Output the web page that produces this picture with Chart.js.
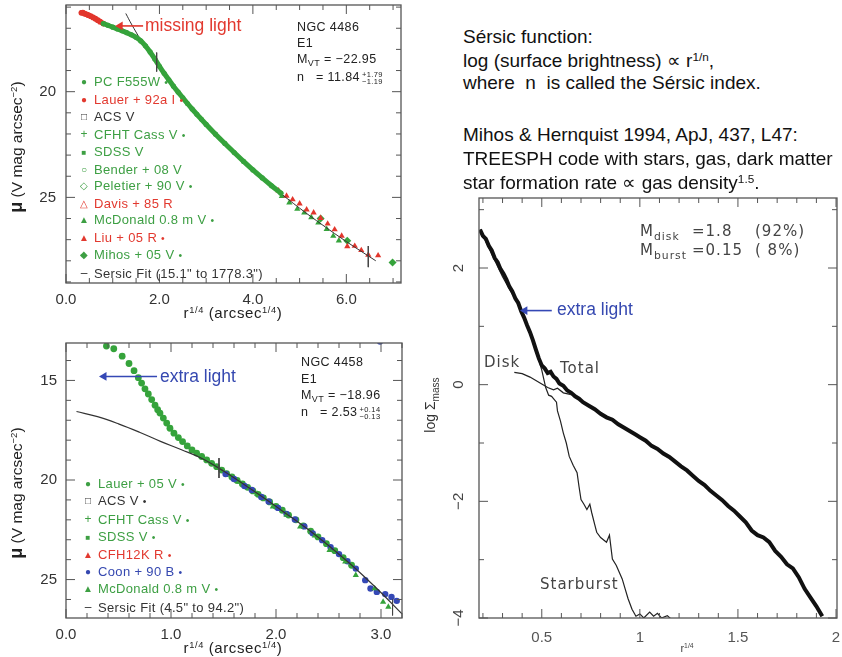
<!DOCTYPE html>
<html>
<head>
<meta charset="utf-8">
<title>Sersic profiles: missing and extra light</title>
<script src="https://cdn.jsdelivr.net/npm/chart.js@4.4.1/dist/chart.umd.min.js"></script>
<style>
  html, body { margin: 0; padding: 0; background: #fff; }
  body { position: relative; width: 842px; height: 657px; overflow: hidden;
         font-family: "Liberation Sans", Arial, sans-serif; color: #222; }
  .panel { position: absolute; }
  .panel canvas { display: block; }
  .intro { position: absolute; left: 463px; font-size: 19px; line-height: 1; color: #111; white-space: pre; }
  .sup { font-size: 0.62em; position: relative; top: -0.55em; }
  .sub { font-size: 0.72em; position: relative; top: 0.35em; }
  .legend { position: absolute; font-size: 13px; letter-spacing: 0.35px; white-space: nowrap; }
  .legend .mk { display: inline-block; width: 10px; margin-right: 5px; text-align: center; font-size: 10px; vertical-align: 1px; letter-spacing: 0; }
  .legend .ast { font-size: 0.8em; }
  .g { color: #3d9f43; }
  .r { color: #e2392f; }
  .k { color: #333; }
  .b { color: #3548b0; }
  .info { position: absolute; font-size: 12.5px; letter-spacing: 0.4px; line-height: 1; white-space: pre; color: #222; }
  .stack { display: inline-block; vertical-align: middle; font-size: 7.5px; line-height: 7px; margin-left: 2px; }
  .ytitle { position: absolute; transform: translate(-50%, -50%) rotate(-90deg); white-space: nowrap; line-height: 1; }
  .xtitle { position: absolute; transform: translate(-50%, -50%); white-space: nowrap; line-height: 1; }
  .note { position: absolute; white-space: nowrap; line-height: 1; font-size: 17.5px; }
  .sim { position: absolute; white-space: pre; line-height: 1; font-family: "DejaVu Sans", sans-serif; font-size: 15px; letter-spacing: 1px; color: #444; }
</style>
</head>
<body>

<div class="panel" style="left:0;top:0"><canvas id="tl" width="420" height="320"></canvas></div>
<div class="panel" style="left:0;top:330px"><canvas id="bl" width="420" height="327"></canvas></div>
<div class="panel" style="left:420px;top:190px"><canvas id="rt" width="422" height="467"></canvas></div>

<!-- right-hand explanatory text -->
<div class="intro" style="top:27px">Sérsic function:</div>
<div class="intro" style="top:51px">log (surface brightness) ∝ r<span class="sup">1/n</span>,</div>
<div class="intro" style="top:73px">where  n  is called the Sérsic index.</div>
<div class="intro" style="top:125px">Mihos &amp; Hernquist 1994, ApJ, 437, L47:</div>
<div class="intro" style="top:149px">TREESPH code with stars, gas, dark matter</div>
<div class="intro" style="top:173px">star formation rate ∝ gas density<span class="sup">1.5</span>.</div>

<!-- NGC 4486 panel text -->
<div class="note r" style="left:145px;top:17px">missing light</div>
<div class="info" style="left:297px;top:21px">NGC 4486</div>
<div class="info" style="left:297px;top:37px">E1</div>
<div class="info" style="left:297px;top:53px">M<span class="sub">VT</span> = −22.95</div>
<div class="info" style="left:297px;top:71px">n   = 11.84<span class="stack">+1.79<br>−1.19</span></div>
<div class="legend" style="left:79px;top:74px;line-height:16.5px">
  <div class="g"><span class="mk">●</span>PC F555W <span class="ast">•</span></div>
  <div class="r"><span class="mk">●</span>Lauer + 92a I <span class="ast">•</span></div>
  <div class="k"><span class="mk">□</span>ACS V</div>
  <div class="g"><span class="mk" style="font-size:12px">+</span>CFHT Cass V <span class="ast">•</span></div>
  <div class="g"><span class="mk" style="font-size:8px">■</span>SDSS V</div>
  <div class="g"><span class="mk">○</span>Bender + 08 V</div>
  <div class="g"><span class="mk">◇</span>Peletier + 90 V <span class="ast">•</span></div>
  <div class="r"><span class="mk">△</span>Davis + 85 R</div>
  <div class="g"><span class="mk">▲</span>McDonald 0.8 m V <span class="ast">•</span></div>
  <div class="r"><span class="mk">▲</span>Liu + 05 R <span class="ast">•</span></div>
  <div class="g"><span class="mk">◆</span>Mihos + 05 V <span class="ast">•</span></div>
  <div class="k"><span class="mk" style="font-size:12px">–</span>Sersic Fit (15.1" to 1778.3")</div>
</div>
<div class="ytitle" style="left:17px;top:147px;font-size:15.5px"><b style="font-size:1.15em">μ</b> (V mag arcsec<span class="sup">−2</span>)</div>
<div class="xtitle" style="left:233px;top:313px;font-size:15px;letter-spacing:0.6px">r<span class="sup">1/4</span> (arcsec<span class="sup">1/4</span>)</div>

<!-- NGC 4458 panel text -->
<div class="note b" style="left:160px;top:368px">extra light</div>
<div class="info" style="left:301px;top:356px">NGC 4458</div>
<div class="info" style="left:301px;top:373px">E1</div>
<div class="info" style="left:301px;top:389px">M<span class="sub">VT</span> = −18.96</div>
<div class="info" style="left:301px;top:406px">n   = 2.53<span class="stack">+0.14<br>−0.13</span></div>
<div class="legend" style="left:83px;top:476px;line-height:16.4px">
  <div class="g"><span class="mk">●</span>Lauer + 05 V <span class="ast">•</span></div>
  <div class="k"><span class="mk">□</span>ACS V <span class="ast">•</span></div>
  <div class="g"><span class="mk" style="font-size:12px">+</span>CFHT Cass V <span class="ast">•</span></div>
  <div class="g"><span class="mk" style="font-size:8px">■</span>SDSS V <span class="ast">•</span></div>
  <div class="r"><span class="mk">▲</span>CFH12K R <span class="ast">•</span></div>
  <div class="b"><span class="mk">●</span>Coon + 90 B <span class="ast">•</span></div>
  <div class="g"><span class="mk">▲</span>McDonald 0.8 m V <span class="ast">•</span></div>
  <div class="k"><span class="mk" style="font-size:12px">–</span>Sersic Fit (4.5" to 94.2")</div>
</div>
<div class="ytitle" style="left:17px;top:493px;font-size:15.5px"><b style="font-size:1.15em">μ</b> (V mag arcsec<span class="sup">−2</span>)</div>
<div class="xtitle" style="left:233px;top:648px;font-size:15px;letter-spacing:0.6px">r<span class="sup">1/4</span> (arcsec<span class="sup">1/4</span>)</div>

<!-- simulation panel text -->
<div class="sim" style="left:640px;top:224px">M<span class="sub">disk</span></div>
<div class="sim" style="left:692px;top:224px">=1.8</div>
<div class="sim" style="left:755px;top:224px">(92%)</div>
<div class="sim" style="left:640px;top:243px">M<span class="sub">burst</span></div>
<div class="sim" style="left:692px;top:243px">=0.15</div>
<div class="sim" style="left:755px;top:243px">( 8%)</div>
<div class="note b" style="left:557px;top:301px">extra light</div>
<div class="sim" style="left:484px;top:355px">Disk</div>
<div class="sim" style="left:560px;top:361px">Total</div>
<div class="sim" style="left:540px;top:577px">Starburst</div>
<div class="ytitle" style="left:430px;top:405px;font-size:14px;color:#333">log Σ<span class="sub">mass</span></div>
<div class="xtitle" style="left:687px;top:648px;font-size:11px;color:#444">r<span class="sup">1/4</span></div>

<script>
// ---- NGC 4486 (top left): [r^1/4, mu] ----
const tlLauer92 = [[0.33,16.27],[0.36,16.26],[0.40,16.31],[0.44,16.34],[0.48,16.38],[0.53,16.43],
  [0.58,16.49],[0.63,16.55],[0.68,16.62],[0.73,16.69],[0.80,16.78]];
const tlPcF555W = [[0.80,16.78],[0.90,16.86],[1.00,16.95],[1.10,17.03],[1.20,17.12],[1.30,17.21],
  [1.40,17.31],[1.50,17.43],[1.60,17.60],[1.70,17.83],[1.80,18.12],[1.90,18.45],[2.00,18.80],
  [2.10,19.13],[2.20,19.44],[2.30,19.74],[2.40,20.02],[2.50,20.29],[2.60,20.56],[2.70,20.82],
  [2.80,21.07],[2.90,21.31],[3.00,21.55],[3.20,22.01],[3.40,22.45],[3.60,22.88],[3.80,23.30],
  [4.00,23.70],[4.20,24.08],[4.40,24.45],[4.60,24.80]];
const tlLiu05 = [[4.55,24.68],[4.72,24.93],[4.85,25.10],[5.00,25.30],[5.15,25.58],[5.30,25.72],
  [5.45,25.98],[5.60,26.25],[5.75,26.52],[5.90,26.82],[6.02,27.32],[6.18,27.30],[6.32,27.50],
  [6.47,27.72],[6.68,27.75]];
const tlMcDonald = [[4.62,24.95],[4.78,25.25],[4.95,25.55],[5.10,25.72],[5.25,25.95],[5.40,26.20],
  [5.58,26.50],[5.72,26.83],[5.84,27.05]];
const tlMihos05 = [[5.45,26.00],[6.02,27.05],[6.99,28.08]];
const tlSersicFit = [[1.28,16.30],[1.40,16.80],[1.60,17.55],[1.80,18.24],[2.00,18.88],[2.40,20.04],
  [2.80,21.07],[3.20,22.02],[3.60,22.89],[4.00,23.72],[4.50,24.64],[5.00,25.51],[5.50,26.32],
  [6.00,27.09],[6.63,28.00]];
const tlFitRange = [[1.94,18.15,19.05],[6.47,27.30,28.30]];
const tlArrow = [[1.16,16.89],[1.65,16.89]];

// ---- NGC 4458 (bottom left) ----
const blLauer05 = [[0.385,13.27],[0.455,13.41],[0.535,13.78],[0.60,14.15],[0.648,14.51],[0.689,14.86],
  [0.72,15.13],[0.752,15.42],[0.784,15.68],[0.816,15.96],[0.848,16.24],[0.873,16.47],[0.895,16.64],
  [0.927,16.89],[0.959,17.14],[0.99,17.40],[1.028,17.65],[1.07,17.87],[1.11,18.07],[1.155,18.29],
  [1.20,18.49],[1.244,18.65],[1.292,18.82],[1.34,18.99],[1.387,19.16],[1.435,19.33],[1.483,19.50],
  [1.53,19.68],[1.58,19.85],[1.63,20.02],[1.68,20.20],[1.73,20.37],[1.78,20.55],[1.83,20.72],
  [1.88,20.90],[1.94,21.10],[2.00,21.32],[2.06,21.52],[2.12,21.76],[2.19,22.00],[2.26,22.30],
  [2.33,22.57],[2.40,22.86],[2.48,23.20],[2.56,23.55],[2.64,23.90],[2.72,24.28]];
const blCoon90 = [[1.52,19.70],[1.60,19.95],[1.70,20.30],[1.77,20.50],[1.86,20.85],[1.93,21.08],
  [2.02,21.40],[2.10,21.70],[2.18,21.98],[2.27,22.33],[2.35,22.68],[2.44,23.02],[2.52,23.38],
  [2.60,23.72],[2.68,24.08],[2.76,24.45],[2.85,25.03],[2.90,25.45],[2.96,25.62],[3.04,25.73],
  [3.10,25.87],[3.15,26.07],[2.99,13.05]];
const blMcDonald = [[1.65,20.10],[1.82,20.70],[1.97,21.34],[2.10,21.75],[2.23,22.35],[2.37,22.80],
  [2.51,23.52],[2.66,24.10],[2.76,24.78],[2.94,25.45],[3.02,26.12],[3.07,26.37]];
const blSersicFit = [[0.10,16.56],[0.30,16.82],[0.50,17.18],[0.70,17.60],[0.90,18.06],[1.10,18.48],
  [1.30,18.93],[1.50,19.55],[1.75,20.42],[2.07,21.59],[2.39,22.82],[2.70,24.18],[2.95,25.40],
  [3.20,26.72]];
const blFitRange = [[1.457,18.90,19.90],[3.11,26.00,26.80]];
const blArrow = [[0.362,14.80],[0.867,14.80]];

// ---- Mihos & Hernquist merger (right): [r^1/4, log Sigma_mass] ----
const rtTotal = [[0.185,2.66],[0.20,2.55],[0.215,2.50],[0.23,2.38],[0.245,2.30],[0.26,2.17],
  [0.275,2.10],[0.29,1.98],[0.305,1.90],[0.32,1.80],[0.335,1.68],[0.35,1.60],[0.365,1.48],
  [0.38,1.40],[0.395,1.26],[0.41,1.15],[0.425,1.02],[0.44,0.90],[0.455,0.76],[0.47,0.60],
  [0.485,0.45],[0.50,0.33],[0.515,0.28],[0.53,0.20],[0.545,0.22],[0.56,0.14],[0.575,0.10],
  [0.59,0.02],[0.61,-0.02],[0.63,-0.10],[0.65,-0.14],[0.67,-0.20],[0.69,-0.24],[0.71,-0.30],
  [0.74,-0.36],[0.77,-0.42],[0.80,-0.50],[0.83,-0.56],[0.86,-0.60],[0.89,-0.68],[0.92,-0.74],
  [0.95,-0.80],[0.98,-0.86],[1.00,-0.90],[1.03,-0.96],[1.06,-1.05],[1.09,-1.10],[1.12,-1.18],
  [1.15,-1.24],[1.18,-1.32],[1.21,-1.40],[1.24,-1.47],[1.27,-1.56],[1.30,-1.65],[1.33,-1.72],
  [1.36,-1.82],[1.39,-1.90],[1.42,-1.98],[1.45,-2.08],[1.48,-2.16],[1.51,-2.26],[1.54,-2.36],
  [1.57,-2.50],[1.60,-2.58],[1.63,-2.62],[1.66,-2.70],[1.69,-2.85],[1.72,-2.95],[1.75,-3.08],
  [1.78,-3.15],[1.81,-3.30],[1.84,-3.50],[1.87,-3.65],[1.90,-3.80],[1.93,-3.97]];
const rtStarburst = [[0.185,2.66],[0.30,1.85],[0.40,1.25],[0.47,0.60],[0.50,0.25],[0.52,-0.05],
  [0.535,-0.18],[0.55,-0.20],[0.565,-0.26],[0.575,-0.30],[0.58,-0.45],[0.595,-0.62],[0.61,-0.83],
  [0.625,-1.00],[0.64,-1.23],[0.66,-1.38],[0.68,-1.51],[0.69,-1.75],[0.70,-1.97],[0.715,-2.05],
  [0.73,-2.14],[0.745,-2.05],[0.755,-2.20],[0.77,-2.40],[0.78,-2.53],[0.80,-2.62],[0.83,-2.70],
  [0.845,-2.58],[0.86,-2.99],[0.88,-3.10],[0.91,-3.33],[0.925,-3.50],[0.94,-3.67],[0.96,-3.85],
  [0.98,-3.97],[1.00,-3.93],[1.02,-4.00],[1.05,-3.90],[1.07,-3.97],[1.09,-3.92],[1.11,-4.00],
  [1.14,-3.96],[1.16,-4.02]];
const rtDisk = [[0.36,0.21],[0.40,0.19],[0.44,0.13],[0.47,0.07],[0.50,0.01],[0.53,-0.05],
  [0.56,-0.09],[0.58,-0.06],[0.61,-0.14],[0.65,-0.17]];
const rtArrow = [[0.414,1.27],[0.551,1.27]];

const green = '#35a33b', red = '#e2362c', blue = '#3548b5';
Chart.defaults.font.family = '"Liberation Sans", Arial, sans-serif';

const pts = arr => arr.map(([x, y]) => ({ x, y }));
const bar = ([x, y1, y2]) => [{ x, y: y1 }, { x, y: y2 }];

// box frame with inward ticks on all four sides (PGPLOT style)
const framePlugin = {
  id: 'frame',
  afterDatasetsDraw(chart, args, opts) {
    const { ctx, chartArea: a } = chart;
    const xs = chart.scales.x, ys = chart.scales.y;
    ctx.save();
    ctx.strokeStyle = '#555';
    ctx.lineWidth = 1.3;
    ctx.strokeRect(a.left, a.top, a.right - a.left, a.bottom - a.top);
    ctx.lineWidth = 1;
    ctx.beginPath();
    const each = (scale, step, major, fn) => {
      const start = Math.ceil(scale.min / step - 1e-9);
      const end = Math.floor(scale.max / step + 1e-9);
      for (let i = start; i <= end; i++) {
        const v = i * step;
        const isMajor = Math.abs(v / major - Math.round(v / major)) < 1e-6;
        fn(scale.getPixelForValue(v), isMajor ? 9 : 5);
      }
    };
    each(xs, opts.x[0], opts.x[1], (px, len) => {
      ctx.moveTo(px, a.bottom); ctx.lineTo(px, a.bottom - len);
      ctx.moveTo(px, a.top); ctx.lineTo(px, a.top + len);
    });
    each(ys, opts.y[0], opts.y[1], (py, len) => {
      ctx.moveTo(a.left, py); ctx.lineTo(a.left + len, py);
      ctx.moveTo(a.right, py); ctx.lineTo(a.right - len, py);
    });
    ctx.stroke();
    if (opts.yLabels) {
      // rotated y tick labels (reading bottom to top)
      ctx.fillStyle = '#444';
      ctx.font = '15px "Liberation Sans", Arial, sans-serif';
      ctx.textAlign = 'center';
      ctx.textBaseline = 'middle';
      opts.yLabels.values.forEach((v, i) => {
        ctx.save();
        ctx.translate(opts.yLabels.x, ys.getPixelForValue(v));
        ctx.rotate(-Math.PI / 2);
        ctx.fillText(opts.yLabels.text[i], 0, 0);
        ctx.restore();
      });
    }
    ctx.restore();
  }
};
Chart.register(framePlugin);

function fixBox(w, h) {
  return s => {
    if (w !== undefined) s.width = w;
    if (h !== undefined) s.height = h;
    s.paddingLeft = s.paddingRight = s.paddingTop = s.paddingBottom = 0;
  };
}

function makeOptions(c) {
  return {
    responsive: false,
    animation: false,
    events: [],
    layout: { padding: c.padding },
    plugins: { legend: { display: false }, tooltip: { enabled: false }, frame: c.frame },
    scales: {
      x: {
        type: 'linear', min: c.x[0], max: c.x[1],
        grid: { display: false, drawTicks: false }, border: { display: false },
        ticks: { stepSize: c.xStep, includeBounds: false, autoSkip: false, maxRotation: 0,
                 padding: c.xPad, color: c.tickColor, font: { size: 15 }, callback: c.xFmt },
        afterFit: fixBox(undefined, c.xHeight)
      },
      y: {
        type: 'linear', min: c.y[0], max: c.y[1], reverse: !!c.reverse,
        grid: { display: false, drawTicks: false }, border: { display: false },
        ticks: { display: c.yStep !== undefined, stepSize: c.yStep, includeBounds: false, autoSkip: false,
                 padding: c.yPad, color: c.tickColor, font: { size: 15 } },
        afterFit: fixBox(c.yWidth, undefined)
      }
    }
  };
}

const arrowSet = (arr, color) => ({
  data: pts(arr), showLine: true, borderColor: color, backgroundColor: color, borderWidth: 1.6,
  pointRadius: [5, 0], pointBorderWidth: 0, pointStyle: 'triangle', rotation: -90
});
const thinLine = (data, color, width, tension) => ({
  data, showLine: true, borderColor: color, borderWidth: width, pointRadius: 0, tension: tension || 0
});
const band = (arr, color, r) => ({
  data: pts(arr), showLine: true, borderColor: color, borderWidth: 5, backgroundColor: color,
  pointRadius: r, pointBorderWidth: 0, borderCapStyle: 'round', borderJoinStyle: 'round', tension: 0.3
});
const marks = (arr, color, style, r) => ({
  data: pts(arr), backgroundColor: color, pointStyle: style, pointRadius: r, pointBorderWidth: 0
});

new Chart(document.getElementById('tl'), {
  type: 'scatter',
  data: {
    datasets: [
      arrowSet(tlArrow, red),
      thinLine(bar(tlFitRange[0]), '#444', 1),
      thinLine(bar(tlFitRange[1]), '#444', 1),
      band(tlPcF555W, green, 2.6),
      band(tlLauer92, red, 2.9),
      thinLine(pts(tlSersicFit), '#333', 1, 0.4),
      marks(tlLiu05, red, 'triangle', 3.6),
      marks(tlMcDonald, green, 'triangle', 3.6),
      marks(tlMihos05, green, 'rectRot', 4)
    ]
  },
  options: makeOptions({
    padding: { left: 0, top: 5, right: 19, bottom: 0 },
    x: [0, 7.17], y: [15.9, 29.05], reverse: true,
    xStep: 2, yStep: 5, xPad: 8, yPad: 10, xHeight: 37, yWidth: 66, tickColor: '#333',
    xFmt: v => v.toFixed(1),
    frame: { x: [0.5, 2], y: [1, 5] }
  })
});

new Chart(document.getElementById('bl'), {
  type: 'scatter',
  data: {
    datasets: [
      arrowSet(blArrow, blue),
      thinLine(bar(blFitRange[0]), '#444', 1),
      thinLine(bar(blFitRange[1]), '#444', 1),
      thinLine(pts(blSersicFit), '#333', 1.2, 0.4),
      marks(blMcDonald, green, 'triangle', 3.6),
      marks(blCoon90, blue, 'circle', 3.2),
      marks(blLauer05, green, 'circle', 3.4)
    ]
  },
  options: makeOptions({
    padding: { left: 0, top: 13, right: 18, bottom: 0 },
    x: [0, 3.2], y: [13.12, 26.93], reverse: true,
    xStep: 1, yStep: 5, xPad: 8, yPad: 9, xHeight: 39, yWidth: 66, tickColor: '#333',
    xFmt: v => v.toFixed(1),
    frame: { x: [0.2, 1], y: [1, 5] }
  })
});

new Chart(document.getElementById('rt'), {
  type: 'scatter',
  data: {
    datasets: [
      arrowSet(rtArrow, blue),
      thinLine(pts(rtDisk), '#222', 1.2),
      thinLine(pts(rtTotal), '#111', 4),
      thinLine(pts(rtStarburst), '#222', 1.2)
    ]
  },
  options: makeOptions({
    padding: { left: 0, top: 8, right: 4, bottom: 0 },
    x: [0.18, 2.005], y: [-4, 3.2],
    xStep: 0.5, xPad: 11, xHeight: 39, yWidth: 59, tickColor: '#555',
    xFmt: v => String(v),
    frame: { x: [0.1, 0.5], y: [1, 2],
             yLabels: { x: 39, values: [2, 0, -2, -4], text: ['2', '0', '−2', '−4'] } }
  })
});
</script>
</body>
</html>
